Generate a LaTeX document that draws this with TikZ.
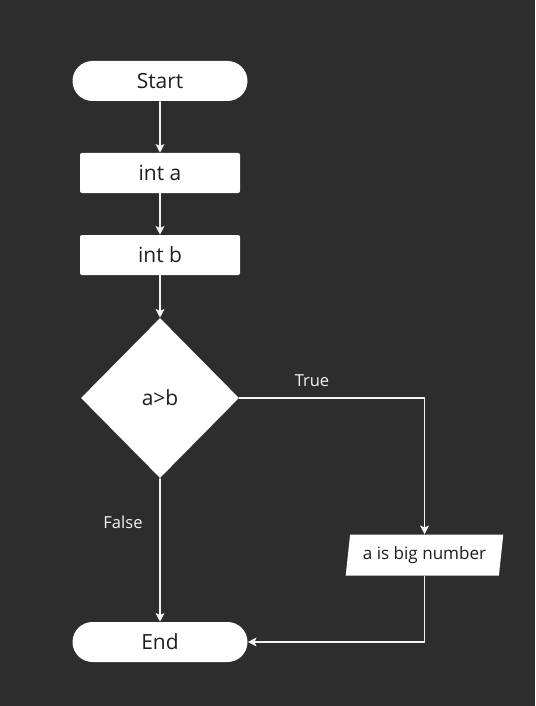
\documentclass[tikz,border=0pt]{standalone}
\usepackage{fontspec}
\setmainfont{Open Sans}
\usetikzlibrary{arrows.meta, shapes.geometric, shapes.misc}
\definecolor{bgdark}{HTML}{2D2D2D}
\definecolor{inkdark}{HTML}{1E1E1E}
\definecolor{linelight}{HTML}{F4F4F4}

\begin{document}
\begin{tikzpicture}[x=0.75pt, y=-0.75pt,
  terminal/.style={rounded rectangle, fill=white, text=inkdark, inner sep=0pt,
    minimum width=131.25pt, minimum height=30pt, font=\fontsize{15.7}{18}\selectfont},
  process/.style={rectangle, rounded corners=1.5pt, fill=white, text=inkdark, inner sep=0pt,
    minimum width=120pt, minimum height=30pt, font=\fontsize{15.7}{18}\selectfont},
  decision/.style={diamond, fill=white, text=inkdark, inner sep=0pt,
    minimum width=118.5pt, minimum height=120pt, font=\fontsize{15.7}{18}\selectfont},
  output/.style={trapezium, trapezium left angle=78, trapezium right angle=102,
    trapezium stretches=true, fill=white, text=inkdark, inner sep=0pt,
    minimum width=118.5pt, minimum height=30.75pt, font=\fontsize{12.8}{15}\selectfont},
  flow/.style={draw=linelight, line width=1.25pt, -{Stealth[length=6.5pt,width=6.5pt,inset=1.5pt]}},
  flowlabel/.style={text=linelight, font=\fontsize{12.4}{15}\selectfont}]
  \fill[bgdark] (0,0) rectangle (535,706);
  \useasboundingbox (0,0) rectangle (535,706);
  % boxes
  \node[terminal] (start) at (160,81) {Start};
  \node[process] (inta) at (160,173) {int a};
  \node[process] (intb) at (160,255) {int b};
  \node[decision] (cond) at (160,398) {a>b};
  \node[output] (bignum) at (424.5,555) {a is big number};
  \node[terminal] (stop) at (160,642) {End};
  % connectors
  \draw[flow] (start) -- (inta);
  \draw[flow] (inta) -- (intb);
  \draw[flow] (intb) -- (cond);
  \draw[flow] (cond.east) -| (bignum.north);
  \draw[flow] (bignum.south) |- (stop.east);
  \draw[flow] (cond) -- (stop);
  \node[flowlabel] (truelbl) at (312,381) {True};
  \node[flowlabel] (falselbl) at (123,522) {False};
\end{tikzpicture}
\end{document}
